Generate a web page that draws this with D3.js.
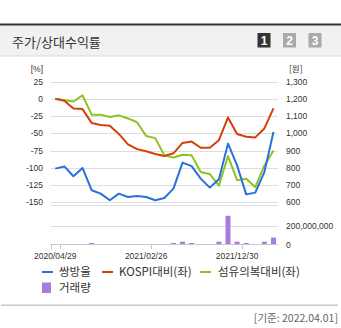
<!DOCTYPE html>
<html><head><meta charset="utf-8">
<script src="https://cdn.jsdelivr.net/npm/d3@7/dist/d3.min.js"></script>
<style>
html,body{margin:0;padding:0;background:#fff;}
svg{display:block;}
</style></head>
<body>
<svg id="c" width="341" height="328"></svg>
<script>
const dates = ["2020/04/29","2020/05/29","2020/06/30","2020/07/31","2020/08/31","2020/09/29","2020/10/30","2020/11/30","2020/12/30","2021/01/29","2021/02/26","2021/03/31","2021/04/30","2021/05/31","2021/06/30","2021/07/30","2021/08/31","2021/09/30","2021/10/29","2021/11/30","2021/12/30","2022/01/28","2022/02/28","2022/03/31","2022/04/01"];
const price = [795,808,751,799,670,650,612,650,631,637,631,612,625,679,830,810,737,685,733,940,814,646,656,775,1007];
const kospiRel = [0,-3,-14,-15,-35,-38,-39,-51,-66,-73,-76,-80,-83,-79,-64,-62,-71,-71,-60,-27,-51,-55,-56,-43,-14];
const textileRel = [0,-2,-4,5,-23,-23,-26.5,-24,-28.5,-34,-54,-57,-82,-85,-81,-82,-106,-109,-126,-83,-118,-116,-128,-97,-75];
const volume = [0,0,0,0,8e6,0,0,0,0,0,0,0,0,10e6,25e6,10e6,0,0,25e6,305e6,25e6,10e6,0,25e6,70e6];
const leftTicks = [25,0,-25,-50,-75,-100,-125,-150];
const rightTicks = [1300,1200,1100,1000,900,800,700,600];
const volTicks = [200000000,0];
const xLabels = ["2020/04/29","2021/02/26","2021/12/30"];
const seriesNames = ["쌍방울","KOSPI대비(좌)","섬유의복대비(좌)","거래량"];
const colors = {price:"#2b6fdc", kospi:"#d4400c", textile:"#8dc21f", vol:"#a77cdc"};

const svg = d3.select("#c");
const NUM = "'Liberation Sans', Arial, sans-serif";
const KR = "'Noto Sans CJK KR', sans-serif";

// header
svg.append("rect").attr("x",0).attr("y",25).attr("width",341).attr("height",31).attr("fill","#f1f1f1");
svg.append("rect").attr("x",0).attr("y",23.5).attr("width",341).attr("height",2).attr("fill","#333");
svg.append("rect").attr("x",0).attr("y",55.5).attr("width",341).attr("height",1).attr("fill","#dcdcdc");
svg.append("text").attr("x",12).attr("y",46.5).attr("font-family",KR).attr("font-size",13).attr("fill","#333").text("주가/상대수익률");
[["1","#333"],["2","#aaa"],["3","#aaa"]].forEach((b,i)=>{
  const bx = 257.5 + i*25.5;
  svg.append("rect").attr("x",bx).attr("y",33).attr("width",13).attr("height",14.5).attr("fill",b[1]);
  svg.append("text").attr("x",bx+6.5).attr("y",45).attr("text-anchor","middle").attr("font-family",NUM).attr("font-weight","bold").attr("font-size",12).attr("fill","#fff").text(b[0]);
});

const x0 = 50.7, x1 = 278;
const x = d3.scaleBand().domain(dates).range([x0,x1]).padding(0);
const cx = d => x(d) + x.bandwidth()/2;
const yL = d3.scaleLinear().domain([-150,25]).range([202.3,81.5]);
const yR = d3.scaleLinear().domain([600,1300]).range([202.3,81.5]);
const yV = d3.scaleLinear().domain([0,200000000]).range([244,225.5]);

// gridlines
const grid = svg.append("g");
leftTicks.forEach(t=>{
  grid.append("line").attr("x1",x0).attr("x2",x1).attr("y1",Math.round(yL(t))+0.5).attr("y2",Math.round(yL(t))+0.5).attr("stroke","#dedede");
});
grid.append("line").attr("x1",x0).attr("x2",x1).attr("y1",205.5).attr("y2",205.5).attr("stroke","#dedede");
grid.append("line").attr("x1",x0).attr("x2",x1).attr("y1",Math.round(yV(200000000))+0.5).attr("y2",Math.round(yV(200000000))+0.5).attr("stroke","#dedede");

// left axis labels
const lab = svg.append("g").attr("font-family",NUM).attr("font-size",8.5).attr("fill","#333");
lab.append("text").attr("x",43).attr("y",72).attr("text-anchor","end").text("[%]");
leftTicks.forEach(t=>{
  lab.append("text").attr("x",43).attr("y",yL(t)+3).attr("text-anchor","end").text(t);
});
lab.append("text").attr("x",289).attr("y",72).text("[원]").attr("font-family",KR).attr("font-size",8.5);
rightTicks.forEach(t=>{
  lab.append("text").attr("x",286).attr("y",yR(t)+3).text(d3.format(",")(t));
});
volTicks.forEach(t=>{
  lab.append("text").attr("x",286).attr("y",yV(t)+3+(t===0?1:0)).text(d3.format(",")(t));
});

// volume bars
svg.append("g").selectAll("rect").data(dates.map((d,i)=>({d,v:volume[i]})).filter(o=>o.v>0)).join("rect")
  .attr("x",o=>cx(o.d)-2.5).attr("width",5)
  .attr("y",o=>Math.min(yV(o.v),243)).attr("height",o=>Math.max(244-yV(o.v),1))
  .attr("fill",colors.vol);

// x axis
svg.append("line").attr("x1",x0).attr("x2",x1).attr("y1",244.5).attr("y2",244.5).attr("stroke","#c4c9d2");
const tickXs = [x0].concat(xLabels.map(d=>x(d)+x.bandwidth()));
tickXs.forEach(tx=>{
  svg.append("line").attr("x1",Math.round(tx)+0.5).attr("x2",Math.round(tx)+0.5).attr("y1",244.5).attr("y2",249).attr("stroke","#c4c9d2");
});
xLabels.forEach(d=>{
  svg.append("text").attr("x",cx(d)).attr("y",259).attr("text-anchor","middle").attr("font-family",NUM).attr("font-size",8.5).attr("fill","#333").text(d);
});

// lines
const mk = (arr, y) => d3.line().x((v,i)=>cx(dates[i])).y(v=>y(v))(arr);
svg.append("path").attr("d",mk(textileRel,yL)).attr("fill","none").attr("stroke",colors.textile).attr("stroke-width",2).attr("stroke-linejoin","round");
svg.append("path").attr("d",mk(kospiRel,yL)).attr("fill","none").attr("stroke",colors.kospi).attr("stroke-width",2).attr("stroke-linejoin","round");
svg.append("path").attr("d",mk(price,yR)).attr("fill","none").attr("stroke",colors.price).attr("stroke-width",2).attr("stroke-linejoin","round");

// legend
const lg = svg.append("g").attr("font-family",KR).attr("font-size",11.5).attr("fill","#333");
const items = [
  {name:seriesNames[0], c:colors.price, sx:42, tx:59, y:272, type:"line"},
  {name:seriesNames[1], c:colors.kospi, sx:102, tx:119, y:272, type:"line"},
  {name:seriesNames[2], c:colors.textile, sx:200, tx:218, y:272, type:"line"},
  {name:seriesNames[3], c:colors.vol, sx:42, tx:59, y:288, type:"box"}
];
items.forEach(it=>{
  if(it.type==="line") lg.append("rect").attr("x",it.sx).attr("y",it.y-1).attr("width",11).attr("height",2).attr("fill",it.c);
  else lg.append("rect").attr("x",it.sx).attr("y",it.y-5.5).attr("width",9).attr("height",10.5).attr("fill",it.c);
  lg.append("text").attr("x",it.tx).attr("y",it.y+4).text(it.name);
});

// footer
svg.append("rect").attr("x",1).attr("y",304.5).attr("width",337).attr("height",1.5).attr("fill","#c8c8c8");
svg.append("text").attr("x",338).attr("y",322).attr("text-anchor","end").attr("font-family",KR).attr("font-size",10.5).attr("fill","#666").text("[기준: 2022.04.01]");
</script>
</body></html>
